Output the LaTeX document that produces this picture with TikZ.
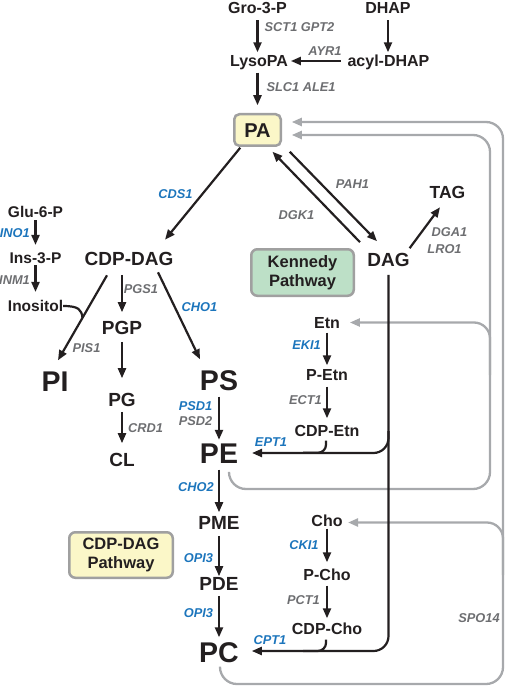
\documentclass[tikz,border=0pt]{standalone}
\usepackage{fontspec}
\setmainfont{Liberation Sans}
\usetikzlibrary{arrows.meta,calc}
\definecolor{ink}{HTML}{231F20}
\definecolor{labgray}{HTML}{6D6E71}
\definecolor{labblue}{HTML}{1C75BC}
\definecolor{loopgray}{HTML}{A7A9AC}
\definecolor{boxyellow}{HTML}{FBF7C8}
\definecolor{boxgreen}{HTML}{BDE0C7}
\definecolor{boxedge}{HTML}{A0A0A0}
\begin{document}
\begin{tikzpicture}[x=1pt,y=-1pt,
 met/.style={font=\bfseries\fontsize{#1}{#1}\selectfont, text=ink, inner sep=0pt, outer sep=0pt, text height=0.716*#1pt, text depth=0pt},
 met/.default=16,
 lab/.style={font=\bfseries\itshape\fontsize{12.8}{12.8}\selectfont, inner sep=0pt, text height=9.16pt, text depth=0pt},
 glab/.style={lab, text=labgray},
 blab/.style={lab, text=labblue},
 arr/.style={draw=ink, line width=2.2pt, -{Triangle[length=10pt,width=8pt]}},
 blk/.style={draw=ink, line width=2.2pt},
 garr/.style={draw=loopgray, line width=2.3pt, -{Triangle[length=10pt,width=8pt]}},
 pathbox/.style={draw=boxedge, line width=2.5pt, rounded corners=6pt, align=center, font=\bfseries\fontsize{16.5}{19}\selectfont, text=ink, inner sep=0pt},
 pabox/.style={draw=boxedge, fill=boxyellow, line width=2.5pt, rounded corners=5pt, minimum width=46.5pt, minimum height=31.5pt},
]
\useasboundingbox (0,0) rectangle (506,687);

% metabolite nodes
\node[met=16] (gro) at (257.5,7.5) {Gro-3-P};
\node[met=16] (dhap) at (388,7.5) {DHAP};
\node[met=16] (lyso) at (259,61) {LysoPA};
\node[met=16] (acyl) at (388.5,61) {acyl-DHAP};
\node[met=20, pabox] (pa) at (257.5,130) {PA};
\node[met=19] (cdpdag) at (129,258.5) {CDP-DAG};
\node[met=19] (dag) at (388.5,260) {DAG};
\node[met=17.5] (tag) at (447.5,192) {TAG};
\node[pathbox, fill=boxgreen, minimum width=102.5pt, minimum height=46.5pt] (kennedy) at (302.5,272.5) {Kennedy\\Pathway};
\node[met=15.5] (glu) at (35.5,212) {Glu-6-P};
\node[met=15.5] (ins) at (35.5,258) {Ins-3-P};
\node[met=15.5] (inositol) at (35.5,306) {Inositol};
\node[met=19] (pgp) at (122,327.5) {PGP};
\node[met=19] (pg) at (122,400) {PG};
\node[met=19] (cl) at (122,460) {CL};
\node[met=28.5] (pi) at (55,381) {PI};
\node[met=28.5] (ps) at (219,380) {PS};
\node[met=28.5] (pe) at (219,453) {PE};
\node[met=19] (pme) at (219,523) {PME};
\node[met=19] (pde) at (219,584) {PDE};
\node[met=28.5] (pc) at (219,652) {PC};
\node[pathbox, fill=boxyellow, minimum width=103.5pt, minimum height=45.5pt] (cdppath) at (121,555) {CDP-DAG\\Pathway};
\node[met=16] (etn) at (327,322.5) {Etn};
\node[met=16] (petn) at (327,375) {P-Etn};
\node[met=16] (cdpetn) at (327,431) {CDP-Etn};
\node[met=16] (cho) at (327,521) {Cho};
\node[met=16] (pcho) at (327,575) {P-Cho};
\node[met=16] (cdpcho) at (327,629) {CDP-Cho};

% enzyme labels
\node[glab] (lsct) at (299.5,27) {SCT1 GPT2};
\node[glab] (layr) at (325,51) {AYR1};
\node[glab] (lslc) at (301,86.5) {SLC1 ALE1};
\node[blab] (lcds) at (175.5,193.5) {CDS1};
\node[glab] (lpah) at (352.5,184) {PAH1};
\node[glab] (ldgk) at (296.5,215) {DGK1};
\node[glab] (ldga) at (449.5,232) {DGA1};
\node[glab] (llro) at (444.5,249) {LRO1};
\node[blab, anchor=east] (lino) at (30,232.5) {INO1};
\node[glab, anchor=east] (linm) at (30,280) {INM1};
\node[glab] (lpgs) at (141,289) {PGS1};
\node[blab] (lcho1) at (199.5,307) {CHO1};
\node[glab] (lpis) at (86.5,348) {PIS1};
\node[glab] (lcrd) at (145.5,428) {CRD1};
\node[blab] (lpsd1) at (195.5,405.5) {PSD1};
\node[glab] (lpsd2) at (195.5,421) {PSD2};
\node[blab] (lcho2) at (196,486.5) {CHO2};
\node[blab] (lopi1) at (198.5,558) {OPI3};
\node[blab] (lopi2) at (198.5,613) {OPI3};
\node[blab] (leki) at (306.5,344.5) {EKI1};
\node[glab] (lect) at (305.5,400) {ECT1};
\node[blab] (lept) at (271,442) {EPT1};
\node[blab] (lcki) at (304,545) {CKI1};
\node[glab] (lpct) at (303.5,599.5) {PCT1};
\node[blab] (lcpt) at (270,640) {CPT1};
\node[glab] (lspo) at (479,618) {SPO14};

% loop corners
\coordinate (outerCorner) at (503,684);
\coordinate (innerCorner) at (490,489);

% gray recycling loops
\draw[garr, rounded corners=17pt] ($(pc.south)+(1,4.5)$) |- (outerCorner) |- ($(pa.east)+(11,-8)$);
\draw[garr, rounded corners=17pt] ($(pe.south)+(10,9)$) |- (innerCorner) |- ($(pa.east)+(11,5)$);
\draw[garr, rounded corners=16pt] (outerCorner |- pcho) |- ($(cho.east)+(5.5,1.5)$);
\draw[garr, rounded corners=16pt] (innerCorner |- petn) |- ($(etn.east)+(10,0)$);

% top
\draw[arr, shorten <=7pt, shorten >=3pt] (gro.south) -- (lyso.north -| gro.south);
\draw[arr, shorten <=7pt, shorten >=3pt] (dhap.south) -- (acyl.north -| dhap.south);
\draw[arr, shorten <=7pt, shorten >=3pt] (acyl.west) -- (lyso.east);
\draw[arr, shorten <=6pt, shorten >=9pt] (lyso.south -| pa.north) -- (pa.north);

% PA / DAG
\draw[arr] ($(pa.south west)+(6,2)$) -- ($(cdpdag.north)+(36,-12)$);
\draw[arr] ($(dag.north)+(-28.5,-11)$) -- ($(pa.south)+(15,6)$);
\draw[arr] ($(pa.south east)+(9,6)$) -- ($(dag.north)+(-11.5,-12)$);
\draw[arr] ($(dag.north east)+(0,-5)$) -- ($(tag.south)+(-7.5,9)$);

% CDP-DAG branch
\draw[arr] ($(cdpdag.south)+(-22,10)$) coordinate (piS) -- ($(pi.north)+(3,-10.5)$) coordinate (piE);
\draw[arr, shorten <=9.5pt, shorten >=8.5pt] (cdpdag.south -| pgp.north) -- (pgp.north);
\draw[arr] ($(cdpdag.south)+(29,7)$) -- ($(ps.north)+(-19,-10.5)$);
\draw[arr, shorten <=7.5pt, shorten >=15pt] (pgp.south) -- (pg.north);
\draw[arr, shorten <=5pt, shorten >=10pt] (pg.south) -- (cl.north);

% inositol
\draw[arr, shorten <=2.5pt, shorten >=7.5pt] (glu.south) -- (ins.north);
\draw[arr, shorten <=1.5pt, shorten >=8.5pt] (ins.south) -- (inositol.north);
\draw[blk] (inositol.east) .. controls +(16,0) and +(-1,-8) .. ($(piS)!0.5!(piE)$);

% PS -> PC
\draw[arr, shorten <=6.5pt, shorten >=3pt] (ps.south) -- (pe.north);
\draw[arr, shorten <=6.5pt, shorten >=4pt] (pe.south) -- (pme.north);
\draw[arr, shorten <=6pt, shorten >=1pt] (pme.south) -- (pde.north);
\draw[arr, shorten <=5pt, shorten >=4.5pt] (pde.south) -- (pc.north);

% Kennedy pathway
\draw[arr, shorten <=4.5pt, shorten >=4pt] (etn.south) -- (petn.north);
\draw[arr, shorten <=6pt, shorten >=7pt] (petn.south) -- (cdpetn.north);
\draw[arr, shorten <=2pt, shorten >=7pt] (cho.south) -- (pcho.north);
\draw[arr, shorten <=5pt, shorten >=5pt] (pcho.south) -- (cdpcho.north);

\draw[arr, rounded corners=15pt] ($(dag.south)+(0,8)$) |- ($(pc.east)+(13,-1)$);
\draw[arr, rounded corners=15pt] (dag.south |- cdpetn) |- ($(pe.east)+(14,0)$);
\draw[blk, rounded corners=8pt] ($(cdpetn.south)+(-1,4)$) |- ($(cdpetn.south)+(-24,16)$);
\draw[blk, rounded corners=8pt] ($(cdpcho.south)+(-1,5)$) |- ($(cdpcho.south)+(-24,16.2)$);
\end{tikzpicture}
\end{document}
